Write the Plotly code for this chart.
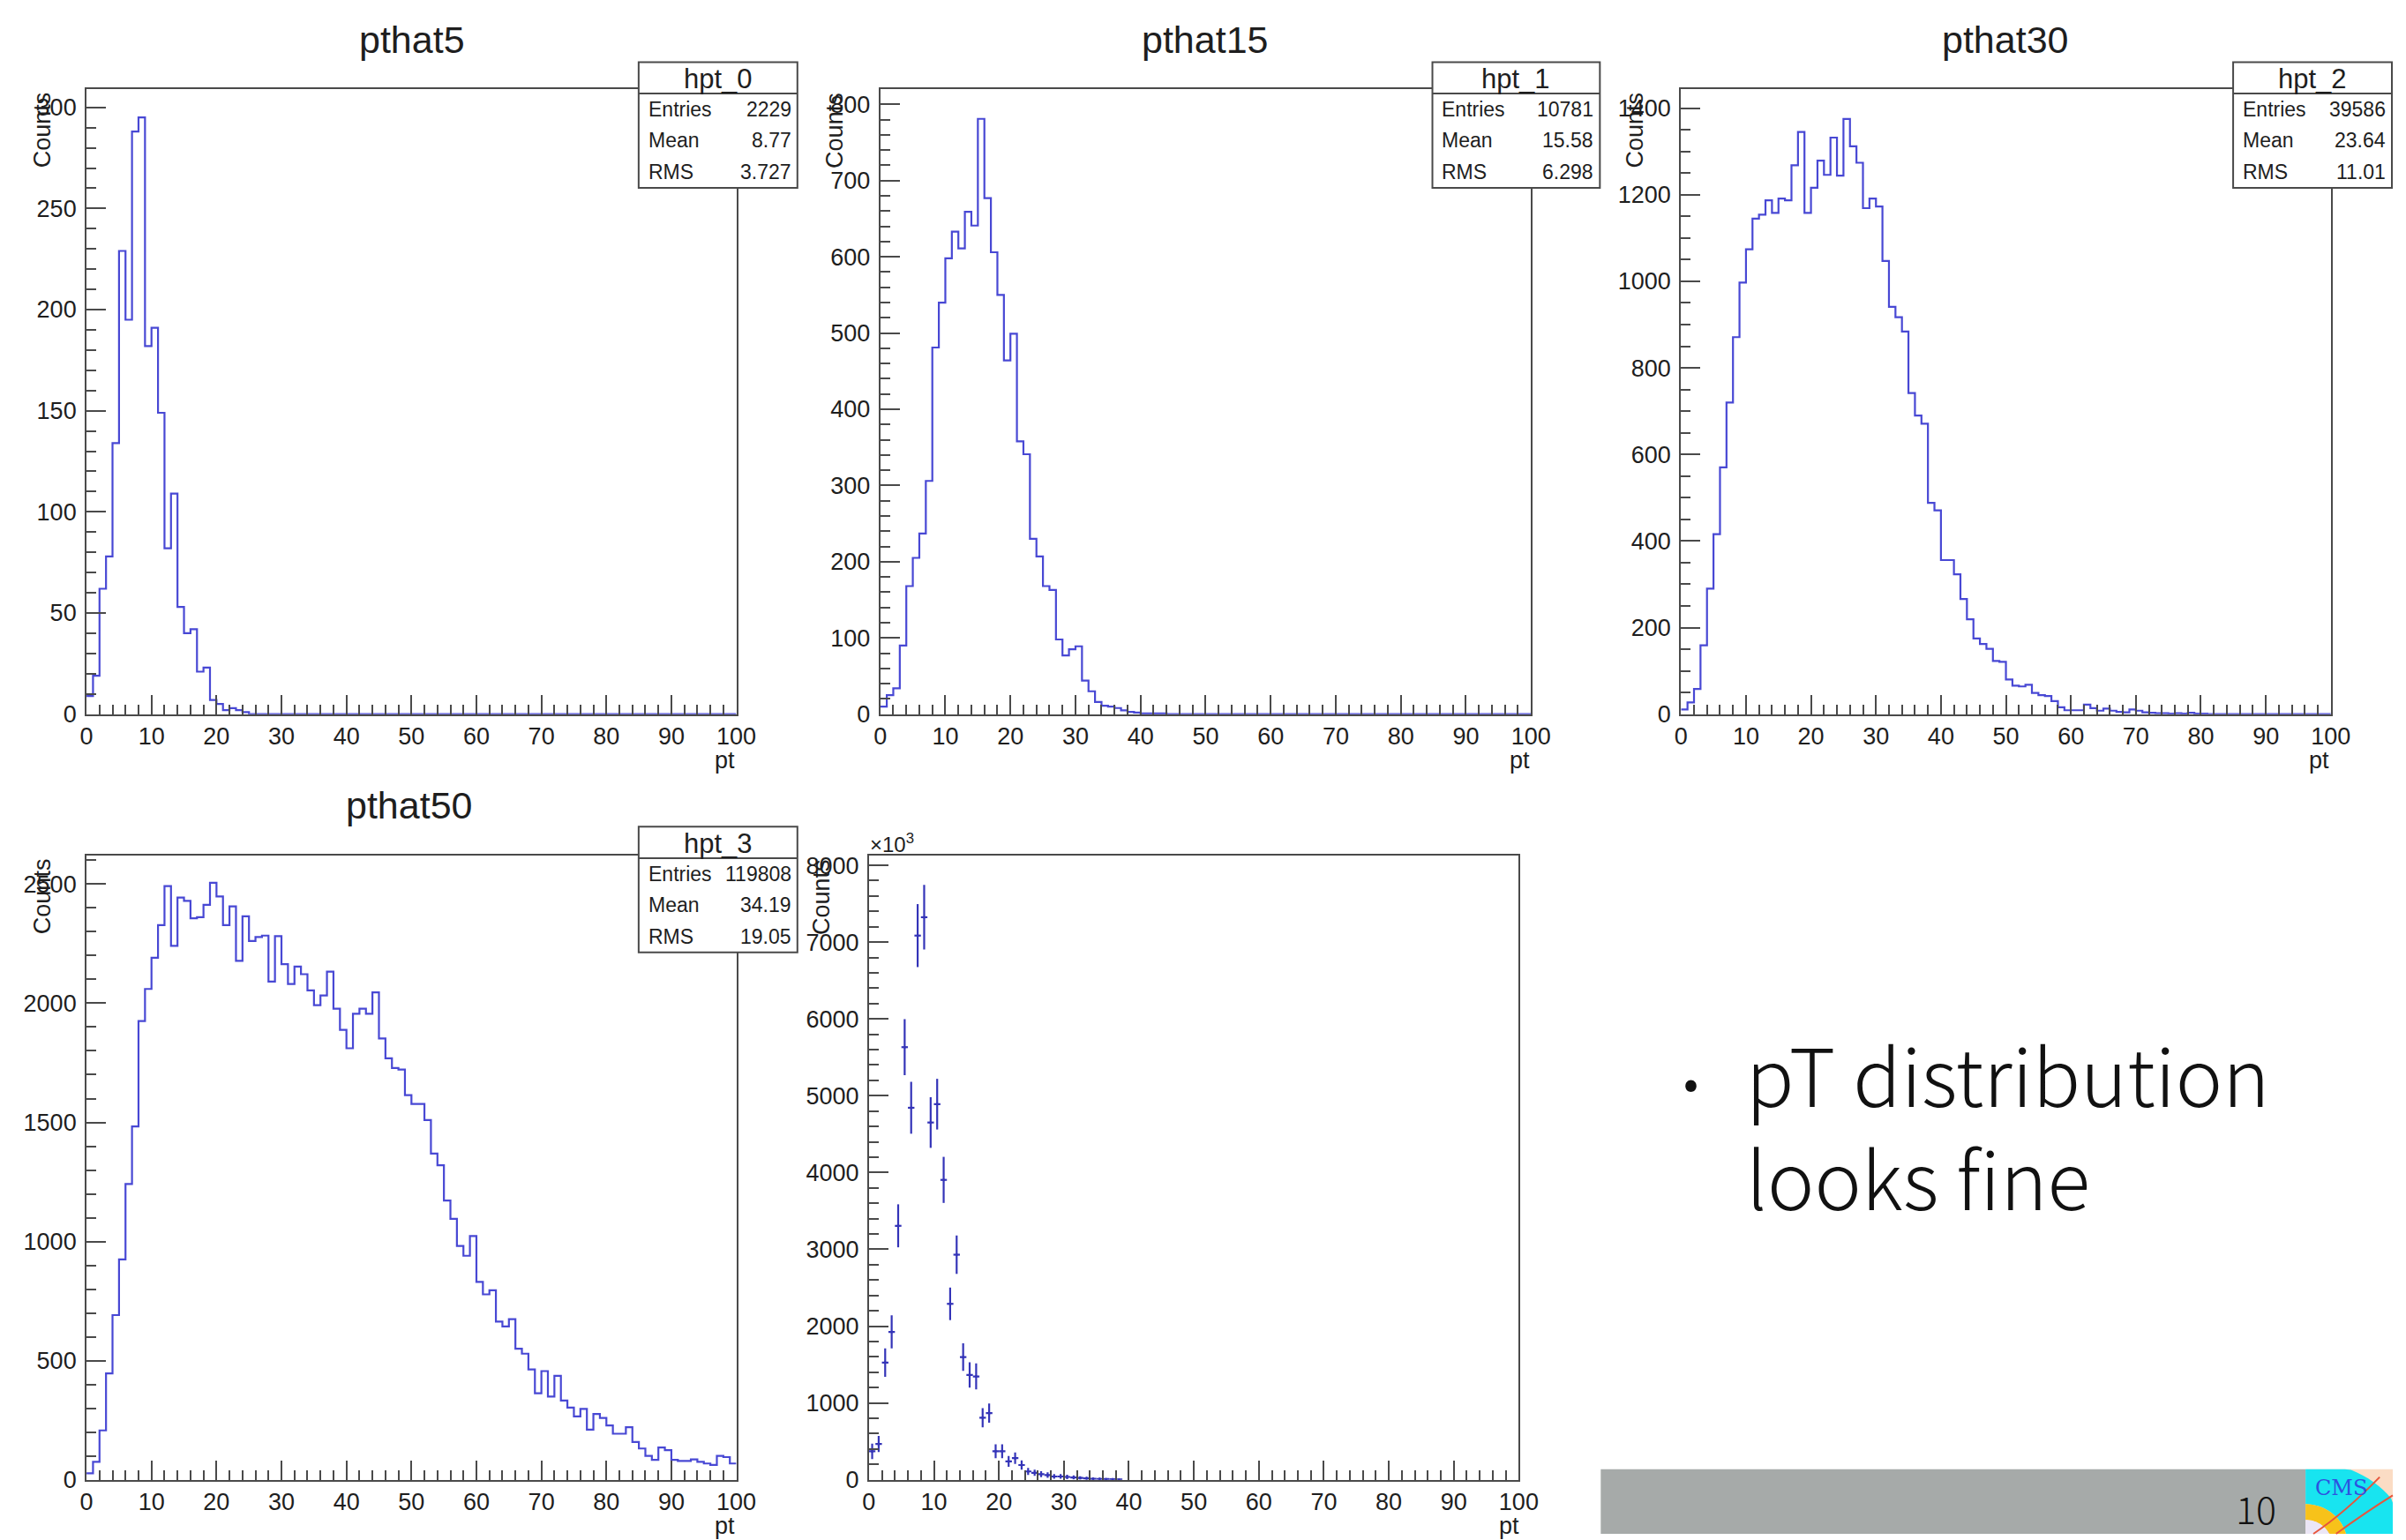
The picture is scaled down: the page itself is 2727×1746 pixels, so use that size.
import plotly.graph_objects as go

W, H = 2727, 1746

# ---------------- data ----------------
bin_lo = list(range(100))          # 1-GeV bins, 0..100
pthat5_counts = [9, 19, 62, 78, 134, 229, 195, 288, 295, 182,
                 191, 149, 82, 109, 53, 40, 42, 21, 23, 7,
                 5, 2, 3, 2, 1]
pthat15_counts = [10, 25, 34, 90, 168, 205, 237, 306, 481, 540,
                  598, 633, 611, 659, 641, 781, 677, 606, 550, 464,
                  499, 358, 341, 230, 207, 168, 163, 98, 77, 85,
                  89, 44, 30, 16, 11, 10, 8, 5, 3, 2,
                  1, 1, 1, 1]
pthat30_counts = [11, 27, 58, 159, 290, 416, 570, 720, 871, 997,
                  1074, 1145, 1154, 1187, 1158, 1191, 1187, 1268, 1345, 1158,
                  1216, 1279, 1246, 1332, 1244, 1375, 1312, 1274, 1169, 1191,
                  1173, 1047, 941, 917, 884, 742, 690, 671, 488, 471,
                  356, 356, 323, 266, 219, 175, 162, 151, 123, 121,
                  80, 66, 64, 68, 49, 44, 42, 30, 16, 9,
                  9, 9, 22, 14, 8, 13, 8, 5, 4, 11,
                  8, 4, 3, 2, 2, 1, 2, 1, 3, 1,
                  1]
pthat50_counts = [27, 75, 207, 446, 691, 925, 1241, 1483, 1925, 2060,
                  2191, 2328, 2492, 2241, 2444, 2430, 2357, 2361, 2413, 2506,
                  2448, 2328, 2407, 2178, 2365, 2261, 2278, 2284, 2091, 2282,
                  2164, 2081, 2154, 2122, 2054, 1992, 2033, 2133, 1977, 1888,
                  1811, 1956, 1977, 1956, 2046, 1852, 1769, 1728, 1722, 1614,
                  1577, 1577, 1510, 1369, 1320, 1172, 1095, 981, 940, 1023,
                  830, 778, 795, 664, 643, 674, 550, 529, 463, 363,
                  456, 349, 436, 332, 303, 266, 297, 210, 276, 259,
                  228, 193, 193, 220, 158, 131, 100, 83, 135, 124,
                  83, 79, 79, 85, 75, 68, 62, 100, 95, 68]
# combined (weighted) histogram drawn with error bars
comb_counts = [370, 465, 1525, 1925, 3306, 5632, 4843, 7085, 7324, 4651,
               4890, 3904, 2290, 2930, 1596, 1363, 1345, 807, 867, 371,
               371, 239, 281, 191, 108, 90, 72, 60, 42, 42,
               36, 30, 24, 18, 12, 10, 8, 6, 3]
comb_errors = [100, 105, 185, 215, 280, 365, 338, 410, 420, 330,
               330, 300, 212, 250, 180, 165, 170, 125, 125, 90,
               90, 70, 75, 60, 45, 40, 38, 35, 30, 30,
               28, 25, 22, 20, 15, 14, 12, 10, 8]

titles = ["pthat5", "pthat15", "pthat30", "pthat50"]
stat_names = ["hpt_0", "hpt_1", "hpt_2", "hpt_3"]
stat_entries = ["2229", "10781", "39586", "119808"]
stat_means = ["8.77", "15.58", "23.64", "34.19"]
stat_rms = ["3.727", "6.298", "11.01", "19.05"]
x_ticks = [0, 10, 20, 30, 40, 50, 60, 70, 80, 90, 100]
comb_yticks = [0, 1000, 2000, 3000, 4000, 5000, 6000, 7000, 8000]
bullet_lines = ["pT distribution", "looks fine"]
page_number = "10"

# ---------------- helpers ----------------
def X(px):
    return px / W


def Y(py):
    return 1 - py / H


def full(v):
    return list(v) + [0] * (100 - len(v))


ROOT_FONT = "Liberation Sans, Arial, Helvetica, sans-serif"
SLIDE_FONT = "Noto Sans CJK KR, Open Sans, sans-serif"
TXT = "#1e1e1e"
AX = "#4a4a4a"
HBLUE = "#4848d4"
EBLUE = "#3434b8"

# frames in pixels: (left, right, top, bottom)
frames = [
    (83, 828, 91, 807),
    (993, 1739, 91, 807),
    (1911, 2656, 91, 807),
    (83, 828, 969, 1684),
    (980, 1725, 969, 1684),
]
y_ranges = [[0, 309], [0, 820], [0, 1444], [0, 2620], [0, 8127]]
y_major = [50, 100, 200, 500, 1000]
y_minor = [10, 20, 50, 100, 200]

fig = go.Figure()

hist_sets = [pthat5_counts, pthat15_counts, pthat30_counts, pthat50_counts]
for i, vals in enumerate(hist_sets):
    v = full(vals)
    xs = bin_lo + [bin_lo[-1] + 1]
    ys = v + [v[-1]]
    fig.add_trace(go.Scatter(
        x=xs, y=ys, mode="lines",
        line=dict(shape="hv", color=HBLUE, width=2.2),
        xaxis="x" if i == 0 else f"x{i+1}",
        yaxis="y" if i == 0 else f"y{i+1}",
        showlegend=False, hoverinfo="skip"))

comb_x = [b + 0.5 for b in bin_lo[:len(comb_counts)]]
fig.add_trace(go.Scatter(
    x=comb_x, y=comb_counts, mode="markers",
    marker=dict(size=3, color=EBLUE),
    error_y=dict(type="data", array=comb_errors, width=0, thickness=2.2, color=EBLUE),
    error_x=dict(type="constant", value=0.5, width=0, thickness=2.2, color=EBLUE),
    xaxis="x5", yaxis="y5", showlegend=False, hoverinfo="skip"))

tickfont = dict(family=ROOT_FONT, size=27, color=TXT)
layout = dict(
    width=W, height=H, autosize=False,
    margin=dict(l=0, r=0, t=0, b=0),
    paper_bgcolor="white", plot_bgcolor="white",
    showlegend=False,
)
for i, (l, r, t, b) in enumerate(frames):
    k = "" if i == 0 else str(i + 1)
    xa = dict(
        domain=[X(l), X(r)], anchor="y" + k, range=[0, 100],
        tickmode="array", tickvals=x_ticks,
        ticks="inside", ticklen=22, tickwidth=2, tickcolor=AX,
        minor=dict(ticks="inside", ticklen=11, tickwidth=2, tickcolor=AX,
                   tick0=0, dtick=2),
        showline=True, linecolor=AX, linewidth=2, mirror=True,
        showgrid=False, zeroline=False, tickfont=tickfont,
        ticklabelstandoff=0, fixedrange=True,
    )
    ya = dict(
        domain=[Y(b), Y(t)], anchor="x" + k, range=y_ranges[i],
        ticks="inside", ticklen=22, tickwidth=2, tickcolor=AX,
        minor=dict(ticks="inside", ticklen=11, tickwidth=2, tickcolor=AX,
                   tick0=0, dtick=y_minor[i]),
        showline=True, linecolor=AX, linewidth=2, mirror=True,
        showgrid=False, zeroline=False, tickfont=tickfont,
        ticklabelstandoff=4, fixedrange=True,
    )
    if i == 4:
        ya.update(tickmode="array", tickvals=comb_yticks,
                  ticktext=[str(v) for v in comb_yticks])
    else:
        ya.update(tickmode="linear", tick0=0, dtick=y_major[i])
    layout["xaxis" + k] = xa
    layout["yaxis" + k] = ya

fig.update_layout(**layout)

annotations = []
shapes = []


def ann(text, x, y, size, xanchor="center", yanchor="middle", family=ROOT_FONT,
        color=TXT, angle=0, weight=None, align="center"):
    f = dict(family=family, size=size, color=color)
    if weight is not None:
        f["weight"] = weight
    annotations.append(dict(
        text=text, x=X(x), y=Y(y), xref="paper", yref="paper",
        xanchor=xanchor, yanchor=yanchor, showarrow=False, align=align,
        font=f, textangle=angle))


# titles, axis titles
title_pos = [(456, 34), (1365, 34), (2282, 34), (453, 911)]
for (tx, ty), tt in zip(title_pos, titles):
    ann(tt, tx, ty, 43)

counts_pos = [(32, 138), (940, 138), (1858, 138), (32, 1016), (925, 1016)]
for cx, cy in counts_pos:
    ann("Counts", cx, cy, 27, angle=-90)

pt_pos = [(815, 860), (1726, 860), (2643, 860), (815, 1737), (1714, 1737)]
for px_, py_ in pt_pos:
    ann("pt", px_, py_, 27)

ann("×10<sup>3</sup>", 979, 955, 24, xanchor="left")

# stat boxes
boxes = [
    (716, 898, 60, 96, 204),
    (1626, 1818, 60, 96, 204),
    (2544, 2726, 60, 96, 204),
    (716, 898, 936, 972, 1080),
]
for j, (bl, br, bt, bd, bb) in enumerate(boxes):
    shapes.append(dict(type="rect", xref="paper", yref="paper",
                       x0=X(bl), x1=X(br), y0=Y(bb), y1=Y(bt),
                       line=dict(color=AX, width=2), fillcolor="white", layer="above"))
    shapes.append(dict(type="line", xref="paper", yref="paper",
                       x0=X(bl), x1=X(br), y0=Y(bd), y1=Y(bd),
                       line=dict(color=AX, width=2), layer="above"))
    ann(stat_names[j], (bl + br) / 2, (bt + bd) / 2 + 1, 31)
    row_h = (bb - bd) / 3
    labels = ["Entries", "Mean", "RMS"]
    values = [stat_entries[j], stat_means[j], stat_rms[j]]
    for r in range(3):
        yy = bd + row_h * (r + 0.5)
        ann(labels[r], bl + 9, yy, 23, xanchor="left")
        ann(values[r], br - 5, yy, 23, xanchor="right")

# slide text
ann("•", 1922, 1226, 50, family=SLIDE_FONT, color="#111")
ann("<br>".join(bullet_lines), 1984, 1277, 90, xanchor="left", family=SLIDE_FONT,
    color="#111", weight=300, align="left")

# footer bar
shapes.append(dict(type="rect", xref="paper", yref="paper",
                   x0=X(1819), x1=X(2627), y0=Y(1746), y1=Y(1672),
                   line=dict(width=0), fillcolor="#a6aaa9", layer="below"))
ann(page_number, 2595, 1716, 43, xanchor="right", family=SLIDE_FONT,
    color="#111", weight=300)

# small CMS logo (decoration)
lx0, lx1, ly0, ly1 = 2627, 2727, 1672, 1746
shapes.append(dict(type="rect", xref="paper", yref="paper",
                   x0=X(lx0), x1=X(lx1), y0=Y(ly1), y1=Y(ly0),
                   line=dict(width=0), fillcolor="#fbdcc4", layer="below"))


def quarter_ring(cx, cy, rxo, ryo, rxi, ryi, n=24):
    import math
    pts = []
    for s in range(n + 1):
        t = math.pi / 2 * s / n
        pts.append((cx + rxo * math.cos(t), cy - ryo * math.sin(t)))
    for s in range(n, -1, -1):
        t = math.pi / 2 * s / n
        pts.append((cx + rxi * math.cos(t), cy - ryi * math.sin(t)))
    cl = [(min(max(px_, lx0), lx1), min(max(py_, ly0), ly1)) for px_, py_ in pts]
    return "M " + " L ".join(f"{X(a):.6f},{Y(b):.6f}" for a, b in cl) + " Z"


ring_specs = [
    (118, 95, 48, 46, "#18e4f0"),
    (48, 46, 30, 28, "#f7c21a"),
    (30, 28, 0.1, 0.1, "#ebe6f6"),
]
for rxo, ryo, rxi, ryi, col in ring_specs:
    shapes.append(dict(type="path", xref="paper", yref="paper",
                       path=quarter_ring(lx0, 1758, rxo, ryo, rxi, ryi),
                       line=dict(width=0), fillcolor=col, layer="below"))
for (ax_, ay_), (qx, qy), (bx, by) in [((2636, 1746), (2672, 1722), (2712, 1681)),
                                        ((2662, 1746), (2695, 1722), (2727, 1702))]:
    shapes.append(dict(type="path", xref="paper", yref="paper",
                       path=f"M {X(ax_):.6f},{Y(ay_):.6f} Q {X(qx):.6f},{Y(qy):.6f} {X(bx):.6f},{Y(by):.6f}",
                       line=dict(width=2, color="#e8553c"), layer="below"))
ann("CMS", 2668, 1693, 24, family="DejaVu Serif, serif", color="#2d52e0")

fig.update_layout(annotations=annotations, shapes=shapes)
fig.write_html("out.html")
